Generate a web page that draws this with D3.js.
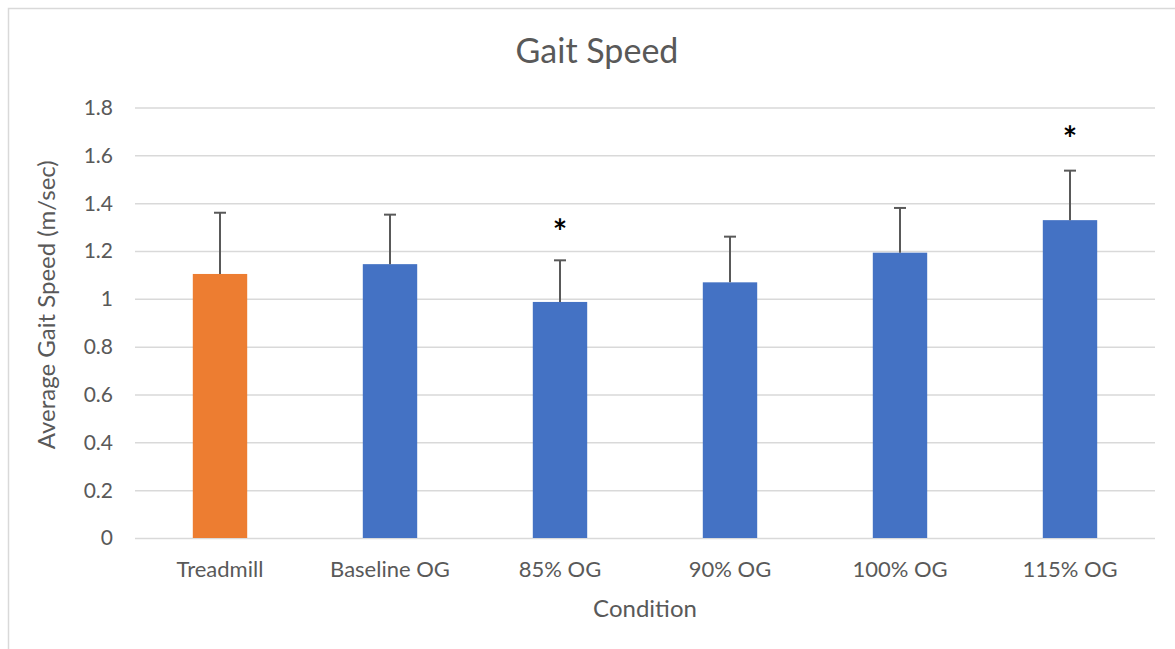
<!DOCTYPE html>
<html>
	<head>
		<meta charset="UTF-8">
		<title>Gait Speed</title>
		<style>
			body {margin: 0; background: #fff;}
			text {font-family: Lato, "Open Sans", sans-serif; fill: #595959;}
			.grid line {stroke: #d9d9d9; stroke-width: 1.5;}
			.grid .domain {display: none;}
		</style>
	</head>
	<body>
		<script src="https://d3js.org/d3.v7.min.js" charset="utf-8"></script>
		<script>
			// data
			var categories = ["Treadmill", "Baseline OG", "85% OG", "90% OG", "100% OG", "115% OG"];
			var means = [1.104, 1.145, 0.987, 1.069, 1.193, 1.329];
			var errPlus = [0.256, 0.207, 0.174, 0.191, 0.187, 0.207];
			var barColors = ["#ED7D31", "#4472C4", "#4472C4", "#4472C4", "#4472C4", "#4472C4"];
			// significance stars (centre height in m/sec), null = none
			var starAt = [null, null, 1.30, null, null, 1.69];
			var yTicks = [0, 0.2, 0.4, 0.6, 0.8, 1, 1.2, 1.4, 1.6, 1.8];
			var yTickLabels = ["0", "0.2", "0.4", "0.6", "0.8", "1", "1.2", "1.4", "1.6", "1.8"];

			var width = 1175;
			var height = 649;
			var plot = {left: 135, right: 1155, top: 107.5, bottom: 538};

			var svg = d3.select("body")
				.append("svg")
				.attr("width", width)
				.attr("height", height);

			// chart border
			svg.append("rect")
				.attr("x", 8.5)
				.attr("y", 8.5)
				.attr("width", 1180)
				.attr("height", 660)
				.attr("fill", "#fff")
				.attr("stroke", "#d9d9d9")
				.attr("stroke-width", 1.5);

			var xScale = d3.scaleBand()
				.domain(categories)
				.range([plot.left, plot.right])
				.paddingInner(0.68)
				.paddingOuter(0.34);

			var yScale = d3.scaleLinear()
				.domain([0, 1.8])
				.range([plot.bottom, plot.top]);

			// gridlines
			svg.append("g")
				.attr("class", "grid")
				.attr("transform", "translate(" + plot.left + ",0)")
				.call(d3.axisLeft(yScale).tickValues(yTicks).tickSize(-(plot.right - plot.left)).tickFormat(""));

			// y tick labels
			svg.append("g")
				.selectAll("text")
				.data(yTicks)
				.enter()
				.append("text")
				.attr("x", 113)
				.attr("y", function(d) { return yScale(d); })
				.attr("dy", "0.35em")
				.attr("text-anchor", "end")
				.style("font-size", "21px")
				.text(function(d, i) { return yTickLabels[i]; });

			// bars
			svg.selectAll(".bar")
				.data(means)
				.enter()
				.append("rect")
				.attr("class", "bar")
				.attr("x", function(d, i) { return xScale(categories[i]); })
				.attr("y", function(d) { return yScale(d); })
				.attr("width", xScale.bandwidth())
				.attr("height", function(d) { return yScale(0) - yScale(d); })
				.attr("fill", function(d, i) { return barColors[i]; });

			// error bars (plus only)
			var err = svg.append("g")
				.attr("stroke", "#595959")
				.attr("stroke-width", 2);
			err.selectAll(".stem")
				.data(means)
				.enter()
				.append("line")
				.attr("x1", function(d, i) { return xScale(categories[i]) + xScale.bandwidth() / 2; })
				.attr("x2", function(d, i) { return xScale(categories[i]) + xScale.bandwidth() / 2; })
				.attr("y1", function(d) { return yScale(d); })
				.attr("y2", function(d, i) { return yScale(d + errPlus[i]); });
			err.selectAll(".cap")
				.data(means)
				.enter()
				.append("line")
				.attr("x1", function(d, i) { return xScale(categories[i]) + xScale.bandwidth() / 2 - 6; })
				.attr("x2", function(d, i) { return xScale(categories[i]) + xScale.bandwidth() / 2 + 6; })
				.attr("y1", function(d, i) { return yScale(d + errPlus[i]); })
				.attr("y2", function(d, i) { return yScale(d + errPlus[i]); });

			// stars
			svg.selectAll(".star")
				.data(starAt.map(function(s, i) { return {s: s, i: i}; }).filter(function(d) { return d.s !== null; }))
				.enter()
				.append("text")
				.attr("class", "star")
				.attr("x", function(d) { return xScale(categories[d.i]) + xScale.bandwidth() / 2; })
				.attr("y", function(d) { return yScale(d.s) + 17; })
				.attr("text-anchor", "middle")
				.style("font-size", "34px")
				.style("font-weight", "bold")
				.style("fill", "#000")
				.text("*");

			// category labels
			svg.append("g")
				.selectAll("text")
				.data(categories)
				.enter()
				.append("text")
				.attr("x", function(d) { return xScale(d) + xScale.bandwidth() / 2; })
				.attr("y", 577)
				.attr("text-anchor", "middle")
				.style("font-size", "22px")
				.text(function(d) { return d; });

			// titles
			svg.append("text")
				.attr("x", 597)
				.attr("y", 63)
				.attr("text-anchor", "middle")
				.style("font-size", "34px")
				.text("Gait Speed");

			svg.append("text")
				.attr("x", (plot.left + plot.right) / 2)
				.attr("y", 617)
				.attr("text-anchor", "middle")
				.style("font-size", "24px")
				.text("Condition");

			svg.append("text")
				.attr("transform", "translate(55," + ((plot.top + plot.bottom) / 2 - 18) + ") rotate(-90)")
				.attr("text-anchor", "middle")
				.style("font-size", "24px")
				.text("Average Gait Speed (m/sec)");
		</script>
	</body>
</html>
